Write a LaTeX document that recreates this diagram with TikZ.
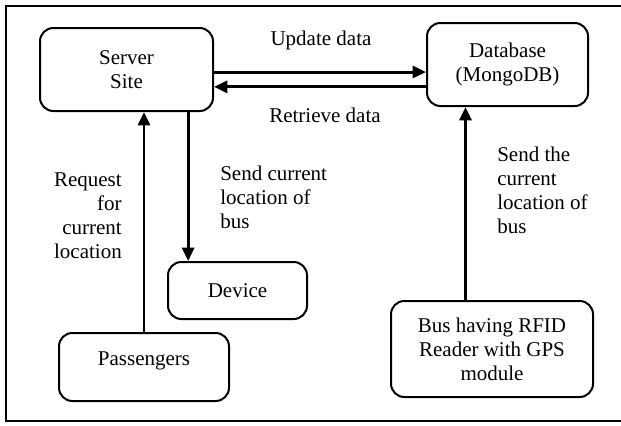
\documentclass[tikz,border=0pt]{standalone}
\usepackage{fontspec}
\setmainfont{Liberation Serif}
\usetikzlibrary{arrows.meta,calc}

\begin{document}
\begin{tikzpicture}[x=0.75pt,y=0.75pt,yscale=-1,xscale=1,
		box/.style={draw,line width=1.5pt,rounded corners=10pt,align=center,inner sep=0pt},
		lbl/.style={inner sep=0pt},
		arr/.style={line width=2.2pt,-{Triangle[length=10pt,width=9pt]}},
		every node/.style={font=\fontsize{15.75}{18}\selectfont}]
		\useasboundingbox (0,0) rectangle (621,425);
		\draw [line width=2pt] (621,6) -- (6,6) -- (6,421) -- (621,421) ;
		% boxes
		\node [box,minimum width=129.75pt,minimum height=62.25pt] (srv) at (126.5,69.5) {Server\\Site};
		\node [box,minimum width=120.75pt,minimum height=62.25pt] (db) at (507.5,64.5) {Database\\(MongoDB)};
		\node [box,minimum width=104.25pt,minimum height=42.75pt] (dev) at (237.5,290.5) {Device};
		\node [box,minimum width=127.5pt,minimum height=51pt,text depth=12pt] (pass) at (144,367) {Passengers};
		\node [box,minimum width=151.5pt,minimum height=72pt] (bus) at (492,349) {Bus having RFID\\Reader with GPS\\module};
		% connectors
		\coordinate (devin) at ($(dev.north west)!0.15!(dev.north east)$);
		\coordinate (busout) at ($(bus.north west)!0.37!(bus.north east)$);
		\draw [arr] ([yshift=1.9pt]srv.east) -- ([yshift=1.9pt]srv.east -| db.west) ;
		\draw [arr] ([yshift=13pt]srv.east -| db.west) -- ([yshift=13pt]srv.east) ;
		\draw [arr] (pass.north) -- (pass.north |- srv.south) ;
		\draw [arr] (devin |- srv.south) -- (devin) ;
		\draw [arr] (busout) -- (busout |- db.south) ;
		% labels
		\node [lbl] (upd) at (321,40) {Update data};
		\node [lbl] (ret) at (325,115) {Retrieve data};
		\node [lbl,anchor=east,align=right] (req) at (122,216) {Request\\for\\current\\location};
		\node [lbl,anchor=west,align=left] (snd) at (220,197) {Send current\\location of\\bus};
		\node [lbl,anchor=west,align=left] (sndb) at (497,190) {Send the\\current\\location of\\bus};
\end{tikzpicture}
\end{document}
